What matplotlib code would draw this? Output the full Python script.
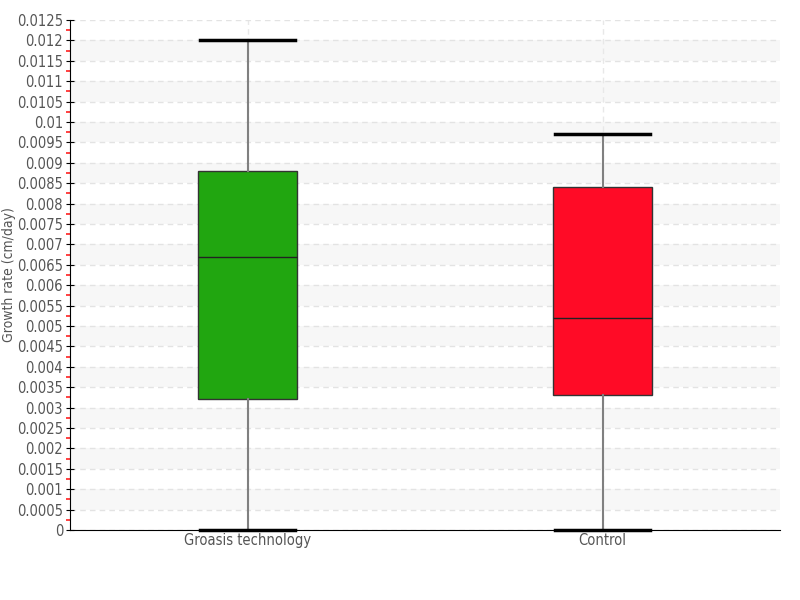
import matplotlib
matplotlib.use("Agg")
import matplotlib.pyplot as plt
from matplotlib.ticker import MultipleLocator, FuncFormatter
import numpy as np

categories = ["Groasis technology", "Control"]
whislo = [0.0, 0.0]
q1 = [0.0032, 0.0033]
med = [0.0067, 0.0052]
q3 = [0.0088, 0.0084]
whishi = [0.0120, 0.0097]
colors = ["#21a610", "#ff0b26"]

plt.rcParams['font.family'] = ['DejaVu Sans']
plt.rcParams['font.stretch'] = 'condensed'

fig = plt.figure(figsize=(8, 6), dpi=100)
ax = fig.add_axes([70/800, 1 - 530/600, 710/800, 510/600])

stats = []
for i, c in enumerate(categories):
    stats.append(dict(label=c, whislo=whislo[i], q1=q1[i], med=med[i], q3=q3[i], whishi=whishi[i], fliers=[]))

bp = ax.bxp(stats, positions=[0, 1], widths=0.28, patch_artist=True, showfliers=False,
            boxprops=dict(edgecolor="#333333", linewidth=1),
            medianprops=dict(color="#222222", linewidth=1),
            whiskerprops=dict(color="#808080", linewidth=1.5),
            capprops=dict(color="black", linewidth=2.5), capwidths=0.27, zorder=3)
for patch, col in zip(bp['boxes'], colors):
    patch.set_facecolor(col)
for cap in bp['caps']:
    cap.set_clip_on(False)

ax.set_xlim(-0.5, 1.5)
ax.set_ylim(0, 0.0125)

# alternating bands
ticks = np.arange(0, 0.0125 + 1e-9, 0.0005)
for k in range(len(ticks) - 1):
    if k % 2 == 1:
        ax.axhspan(ticks[k], ticks[k + 1], color="#f7f7f7", zorder=0, lw=0)

ax.yaxis.set_major_locator(MultipleLocator(0.0005))
ax.yaxis.set_minor_locator(MultipleLocator(0.00025))

def fmt(v, pos):
    s = f"{v:.4f}".rstrip("0").rstrip(".")
    return s if s else "0"
ax.yaxis.set_major_formatter(FuncFormatter(fmt))

ax.grid(axis='y', which='major', color="#e3e3e3", linestyle=(0, (4, 3)), linewidth=1, zorder=1)
ax.grid(axis='x', which='major', color="#e8e8e8", linestyle=(0, (4, 3)), linewidth=1, zorder=1)
ax.set_axisbelow(True)

ax.tick_params(axis='y', which='major', direction='inout', length=6, color='black', labelcolor='#555555', labelsize=10.5, pad=2)
ax.tick_params(axis='y', which='minor', direction='out', length=3, width=1.2, color='#ff2020')
ax.tick_params(axis='x', which='both', length=0, labelcolor='#555555', labelsize=10.5, pad=2)

for s in ['top', 'right']:
    ax.spines[s].set_visible(False)
ax.spines['left'].set_color('black')
ax.spines['bottom'].set_color('black')

ax.set_ylabel("Growth rate (cm/day)", color='#555555', fontsize=10)
ax.yaxis.set_label_coords(-54/710, 0.5)

fig.savefig("out.png", dpi=100)
